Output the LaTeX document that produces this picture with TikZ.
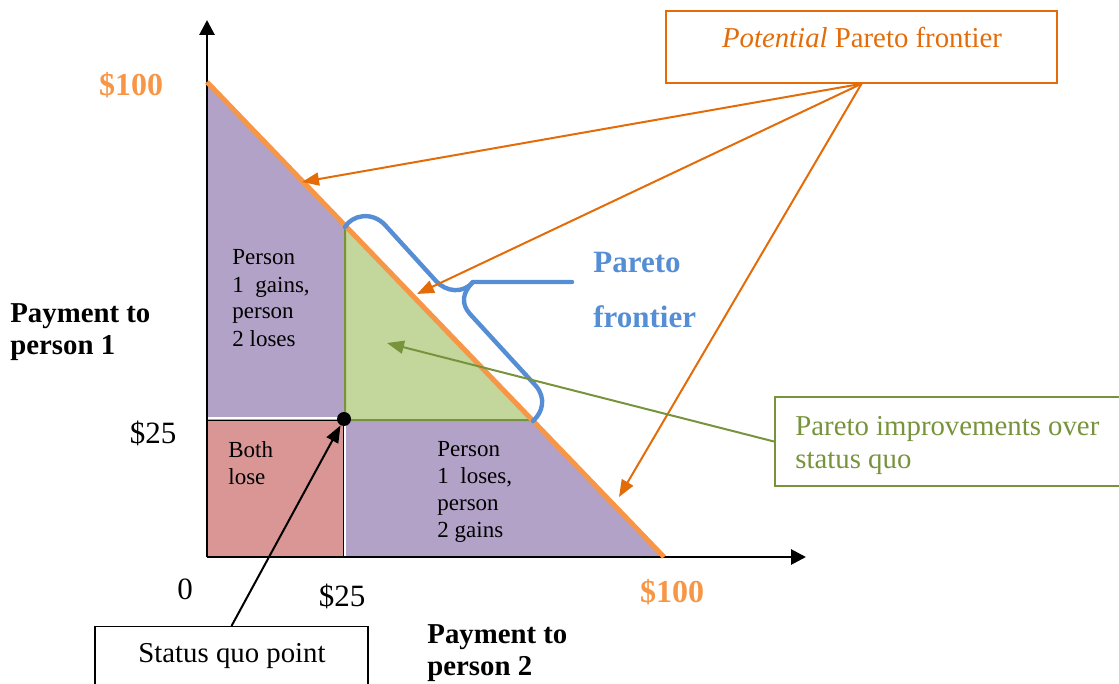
\documentclass[tikz,border=0pt]{standalone}
\usepackage{fontspec}
\setmainfont{Liberation Serif}
\usetikzlibrary{arrows.meta}

\definecolor{frontorange}{HTML}{F79646}
\definecolor{darkorange}{HTML}{E36C09}
\definecolor{regionpurple}{HTML}{B2A2C7}
\definecolor{improvegreen}{HTML}{C3D69B}
\definecolor{olivegreen}{HTML}{77933C}
\definecolor{losered}{HTML}{D99694}
\definecolor{braceblue}{HTML}{558ED5}

% left-aligned block of lines whose baseline is the first line
\newcommand\stackL[1]{\begin{tabular}[t]{@{}l@{}}#1\end{tabular}}

\begin{document}
\begin{tikzpicture}[x=0.5pt,y=-0.5pt,
  axisline/.style={line width=1.4pt,-{Triangle[length=7.5pt,width=7.5pt]}},
  callout/.style={line width=1pt,-{Triangle[length=8.5pt,width=6.5pt]}},
  regiontext/.style={font=\fontsize{11.5}{13.5}\selectfont,anchor=base west,inner sep=0},
  ticktext/.style={font=\fontsize{15.5}{18}\selectfont,anchor=base,inner sep=0},
  axistext/.style={font=\bfseries\fontsize{14.4}{16.2}\selectfont,anchor=base west,inner sep=0},
  bigdollar/.style={font=\bfseries\fontsize{16}{19}\selectfont,text=frontorange,inner sep=0},
  labeltext/.style={font=\fontsize{14.4}{16.5}\selectfont,inner sep=0},
  brace/.style={braceblue,line width=2.2pt,line cap=round,line join=round},
]
\useasboundingbox (0,0) rectangle (1119,684);

% key points of the payment space
\coordinate (origin) at (207,557);
\coordinate (ytop)   at (207,82);
\coordinate (xend)   at (664,557);
\coordinate (quoX)   at (345,420);
\coordinate (gtop)   at (345,226);
\coordinate (gright) at (533,420);

% regions
\fill[regionpurple] (ytop) -- (origin) -- (xend) -- cycle;
\filldraw[fill=improvegreen,draw=olivegreen,line width=1pt] (gtop) -- (quoX) -- (gright) -- cycle;
\filldraw[fill=losered,draw=black,line width=0.5pt] (207,420) rectangle (343,557);
\draw[white,line width=0.8pt] (207,418) -- (345,418) -- (345,557);

% axes
\draw[axisline] (origin) -- (207,20);
\draw[axisline] (origin) -- (806,557);

% potential Pareto frontier
\draw[frontorange,line width=2.5pt] (ytop) -- (xend);

% status quo point
\node[circle,fill=black,minimum size=7pt,inner sep=0] (sq) at (344,419) {};

% Pareto frontier brace
\draw[brace] (345,227) .. controls (352,215) and (372,211) .. (385,225) -- (436,281)
  .. controls (446,292) and (463,294) .. (473,282) -- (572,282);
\draw[brace] (473,282) .. controls (462,293) and (461,304) .. (470,314) -- (536,386)
  .. controls (546,398) and (543,412) .. (533,421);

% callout boxes
\node[draw=darkorange,line width=0.8pt,minimum width=195.5pt,minimum height=36pt,inner sep=0]
  (potbox) at (861.5,47) {};
\node[labeltext,anchor=base,text=darkorange] (pottext) at (862,48) {\textit{Potential} Pareto frontier};

\node[draw=olivegreen,line width=0.8pt,minimum width=180pt,minimum height=44.5pt,inner sep=0,anchor=west]
  (impbox) at (774,441.5) {};
\node[labeltext,anchor=base west,text=olivegreen] (imptext) at (795,435)
  {\stackL{Pareto improvements over\\status quo}};

\node[draw=black,line width=0.6pt,minimum width=136.5pt,minimum height=40pt,inner sep=0,anchor=north]
  (sqbox) at (231.5,626) {};
\node[labeltext,anchor=base] (sqtext) at (232,662) {Status quo point};

% arrow targets on the frontier and in the improvement set
\coordinate (f1) at (302,182);
\coordinate (f2) at (417,294);
\coordinate (f3) at (619,497);
\coordinate (gtip) at (387,343);

\draw[callout,darkorange] (potbox.south) -- (f1);
\draw[callout,darkorange] (potbox.south) -- (f2);
\draw[callout,darkorange] (potbox.south) -- (f3);
\draw[callout,olivegreen] (impbox.west) -- (gtip);
\draw[callout,black] (sqbox.north) -- (sq);

% axis values
\node[bigdollar] (y100) at (131,85) {\$100};
\node[bigdollar] (x100) at (672,592) {\$100};
\node[ticktext] (y25) at (153,443) {\$25};
\node[ticktext] (zero) at (185,599) {0};
\node[ticktext] (x25) at (342,606) {\$25};

% axis titles
\node[axistext] (ylab) at (10,322) {\stackL{Payment to\\person 1}};
\node[axistext] (xlab) at (427,643) {\stackL{Payment to\\person 2}};

% region labels
\node[regiontext] (r1) at (232,265) {\stackL{Person\\1\ \ gains,\\person\\2 loses}};
\node[regiontext] (r2) at (228,457) {\stackL{Both\\lose}};
\node[regiontext] (r3) at (437,456) {\stackL{Person\\1\ \ loses,\\person\\2 gains}};

% Pareto frontier label
\node[font=\bfseries\fontsize{15.5}{28}\selectfont,text=braceblue,anchor=base west,inner sep=0]
  (pflab) at (593,272) {\stackL{Pareto\\frontier}};
\end{tikzpicture}
\end{document}
